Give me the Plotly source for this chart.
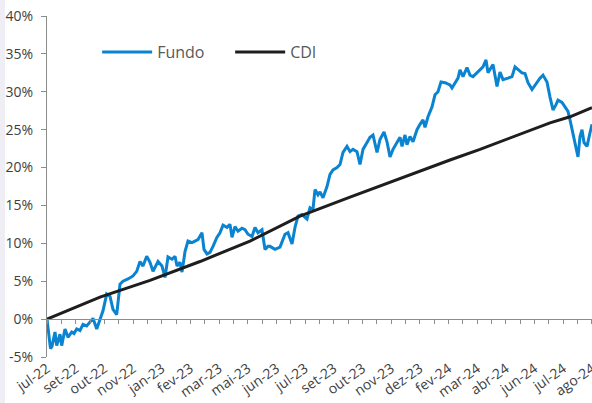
import plotly.graph_objects as go

# x = trading-day index (0 .. 545) across the period shown
TICK_LABELS = ["jul-22", "set-22", "out-22", "nov-22", "jan-23", "fev-23", "mar-23",
               "mai-23", "jun-23", "jul-23", "set-23", "out-23", "nov-23", "dez-23",
               "fev-24", "mar-24", "abr-24", "jun-24", "jul-24", "ago-24"]
X_MAX = 545

FUNDO_X = [0, 1.5, 3.5, 5, 8, 9.7, 13, 14.7, 18, 21, 24.7, 27, 29.7, 33, 36, 39.7, 43, 46,
           49.7, 53, 56, 59.7, 63, 66, 69.7, 73, 76, 81, 86, 89.7, 93, 96, 99.7, 103, 106,
           111, 115, 118, 121, 125, 128, 130, 133, 135, 138, 141, 145, 148, 151, 155, 157,
           160, 163, 166, 170, 173, 176, 180, 183, 185, 188, 191, 195, 198, 201, 205, 208,
           211, 215, 218, 221, 223, 228, 233, 238, 241, 245, 248, 251, 255, 260, 263, 266,
           268, 271, 273, 276, 280, 283, 286, 290, 293, 296, 300, 303, 306, 310, 313, 316,
           320, 323, 326, 330, 333, 337, 340, 343, 346, 350, 353, 355, 358, 360, 363, 366,
           370, 373, 376, 378, 381, 385, 388, 391, 394, 398, 403, 405, 408, 411, 413, 416,
           420, 423, 426, 430, 433, 436, 439, 441, 446, 450, 453, 456, 461, 465, 468, 471,
           475, 478, 481, 485, 488, 493, 496, 500, 503, 506, 509, 511, 515, 518, 521, 523,
           525, 527, 529, 531, 533, 535, 537, 540, 543, 545]
FUNDO_Y = [0.0, -1.5, -3.9, -3.6, -1.7, -3.5, -2.0, -3.5, -1.3, -2.4, -1.7, -1.9, -1.3,
           -1.5, -0.7, -0.9, -0.3, 0.1, -1.3, 0.0, 1.1, 3.3, 3.0, 1.3, 0.6, 4.6, 5.0, 5.3,
           5.7, 6.3, 7.6, 7.0, 8.3, 7.5, 6.3, 7.6, 7.0, 5.5, 8.2, 7.9, 8.3, 7.0, 7.5, 6.2,
           8.9, 10.3, 10.1, 10.3, 10.5, 11.4, 9.2, 8.6, 8.8, 9.6, 10.8, 11.4, 12.4, 12.1,
           12.5, 10.8, 12.2, 11.6, 12.0, 11.8, 11.2, 10.9, 12.1, 11.4, 11.8, 9.2, 9.6, 9.6,
           9.2, 9.5, 11.2, 11.4, 9.9, 12.1, 13.6, 13.8, 13.2, 14.7, 14.5, 17.1, 16.4, 16.8,
           16.0, 17.5, 19.1, 19.7, 20.0, 20.4, 22.0, 22.8, 22.1, 22.4, 22.1, 20.4, 22.4,
           23.3, 24.0, 24.3, 22.0, 23.7, 24.7, 23.4, 21.4, 22.4, 23.3, 24.0, 22.8, 24.3,
           23.0, 24.1, 23.4, 25.0, 25.7, 26.3, 25.3, 26.7, 28.0, 29.6, 30.0, 31.3, 31.2,
           30.9, 30.5, 31.2, 31.8, 32.9, 32.0, 33.2, 32.2, 32.0, 32.5, 32.8, 33.3, 34.2,
           32.5, 33.6, 30.7, 32.6, 31.6, 31.8, 32.0, 33.3, 32.9, 32.5, 32.4, 31.2, 30.3,
           30.9, 31.8, 32.2, 31.3, 29.3, 27.6, 28.3, 28.9, 28.6, 27.9, 27.4, 26.3, 25.0,
           24.1, 22.8, 21.4, 24.1, 25.0, 23.3, 22.8, 24.6, 25.7]

CDI_X = [0, 53, 103, 153, 203, 253, 303, 353, 403, 433, 453, 503, 523, 545]
CDI_Y = [0.0, 2.9, 5.1, 7.6, 10.3, 13.6, 16.1, 18.6, 21.0, 22.4, 23.4, 25.9, 26.7, 27.9]

Y_TICKS = [-5, 0, 5, 10, 15, 20, 25, 30, 35, 40]

n_int = len(TICK_LABELS) - 1
label_pos = [X_MAX * i / n_int for i in range(n_int + 1)]
minor_pos = [X_MAX * i / (2 * n_int) for i in range(2 * n_int + 1)]
label_pos[-1] = X_MAX - 0.01
minor_pos[-1] = X_MAX - 0.01

FONT = "Open Sans"
fig = go.Figure()
fig.add_trace(go.Scatter(x=FUNDO_X, y=FUNDO_Y, mode="lines", name="Fundo",
                         line=dict(color="#0A84D0", width=3)))
fig.add_trace(go.Scatter(x=CDI_X, y=CDI_Y, mode="lines", name="CDI",
                         line=dict(color="#1E1E1E", width=3)))
# helper (invisible) trace so the zero-line axis is rendered
fig.add_trace(go.Scatter(x=[CDI_X[0]], y=[CDI_Y[0]], mode="markers", xaxis="x2",
                         marker=dict(opacity=0), showlegend=False, hoverinfo="skip"))

fig.update_layout(
    width=592, height=403,
    margin=dict(l=47, r=0, t=16, b=46, autoexpand=False),
    paper_bgcolor="white", plot_bgcolor="white",
    font=dict(family=FONT, color="#404040"),
    showlegend=True,
    legend=dict(orientation="h", x=0.092, y=0.894, xanchor="left", yanchor="middle",
                font=dict(size=16, color="#595959", family=FONT),
                bgcolor="rgba(0,0,0,0)", itemwidth=50,
                entrywidth=68, entrywidthmode="pixels"),
    xaxis=dict(range=[0, X_MAX], tickmode="array", tickvals=label_pos,
               ticktext=TICK_LABELS, tickangle=-35, showline=False, ticks="",
               showgrid=False, zeroline=False, automargin=False,
               ticklabeloverflow="allow",
               tickfont=dict(size=14, color="#404040", family=FONT)),
    xaxis2=dict(range=[0, X_MAX], overlaying="x", anchor="free", position=5 / 45,
                side="bottom", showline=True, linecolor="#8C8C8C", linewidth=1.3,
                ticks="outside", ticklen=4, tickcolor="#8C8C8C", tickwidth=1.3,
                tickmode="array", tickvals=minor_pos, showticklabels=False,
                showgrid=False, zeroline=False, automargin=False),
    yaxis=dict(range=[-5, 40], tickmode="array", tickvals=Y_TICKS,
               ticktext=[f"{v}%" for v in Y_TICKS], showline=True,
               linecolor="#8C8C8C", linewidth=1.3, ticks="outside", ticklen=5,
               tickcolor="#8C8C8C", showgrid=False, zeroline=False, automargin=False,
               ticklabelstandoff=5,
               tickfont=dict(size=14, color="#404040", family=FONT)),
    shapes=[dict(type="rect", xref="paper", yref="paper", x0=-47 / 545, x1=-42 / 545,
                 y0=-46 / 341, y1=1 + 16 / 341, fillcolor="#EEEEF4", line=dict(width=0),
                 layer="below")],
)

fig.write_html("out.html", config={"displayModeBar": False},
               post_script="document.body.style.margin='0';"
                           "document.body.style.overflow='hidden';")
